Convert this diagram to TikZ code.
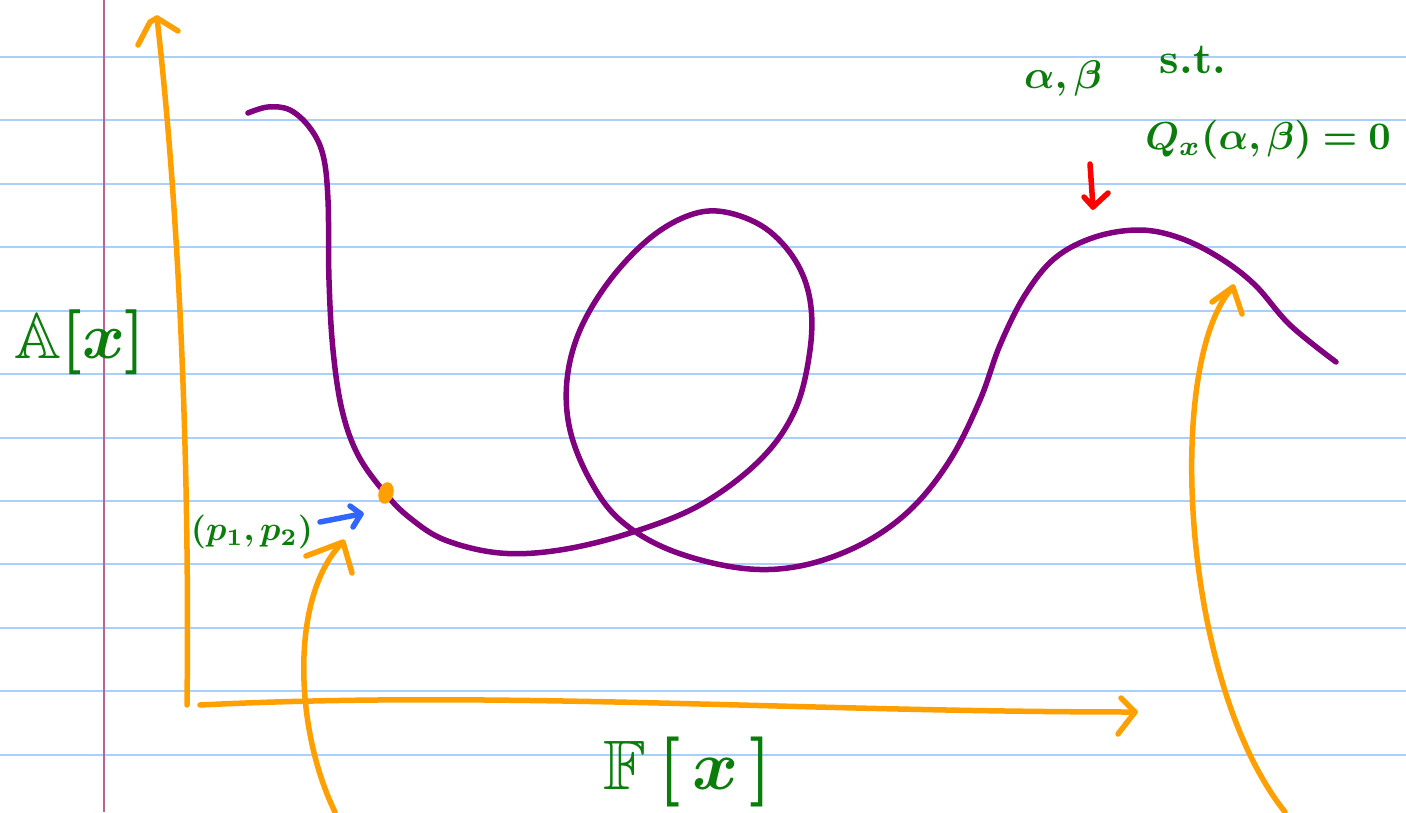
\documentclass[tikz,border=0pt]{standalone}
\usepackage{amssymb}
\usepackage{amsmath}
\usepackage{bm}
\usepackage{graphicx}
\usetikzlibrary{shapes.geometric}
\begin{document}
\begin{tikzpicture}[x=1pt,y=-1pt,
  pen/.style={line width=5.5pt,line cap=round,line join=round},
  rule/.style={line width=1.4pt,draw={rgb,255:red,168;green,208;blue,250}},
  lbl/.style={text={rgb,255:red,10;green,125;blue,10},inner sep=0pt},
]
\definecolor{og}{RGB}{255,160,0}
\definecolor{pu}{RGB}{128,0,128}
\definecolor{bl}{RGB}{50,100,255}
\definecolor{rd}{RGB}{255,0,0}
\useasboundingbox (0,0) rectangle (1406,812);
\fill[white] (0,0) rectangle (1406,812);
% ruled lines
\foreach \y in {57,120,184,247,311,374,438,501,564,628,691,755}
  \draw[rule] (0,\y) -- (1406,\y);
% margin
\draw[line width=1.4pt,draw={rgb,255:red,190;green,100;blue,140}] (104,0) -- (104,812);

% axes
\coordinate (yb) at (187,705);
\coordinate (yt) at (157,18);
\draw[pen,og] (yb) .. controls (190,450) and (178,200) .. (yt);
\draw[pen,og] (138,45) -- (150,22) -- (157,18) -- (178,31);
\coordinate (xb) at (200,705);
\coordinate (xt) at (1135,712);
\draw[pen,og] (xb) .. controls (500,690) and (800,712) .. (xt);
\draw[pen,og] (1121,698) -- (xt) -- (1118,734);

% purple curve
\draw[pen,pu] plot[smooth,tension=0.6] coordinates {
 (248,113) (268,107) (290,110) (310,128) (323,155) (328,200) (329,280)
 (333,350) (342,410) (358,455) (385,493) (410,518) (445,540) (500,553)
 (560,550) (630,533) (700,505) (760,460) (795,410) (810,350) (810,300)
 (795,260) (765,228) (725,212) (690,215) (650,238) (610,280) (580,330)
 (567,380) (570,430) (590,480) (620,520) (670,550) (740,568) (800,566)
 (860,545) (910,510) (950,460) (980,400) (1000,345) (1025,295) (1055,258)
 (1095,237) (1140,230) (1180,238) (1220,258) (1255,285) (1290,325) (1336,362)};

% point
\node[ellipse,fill=og,minimum width=15pt,minimum height=22pt,inner sep=0pt,rotate=-15] (pt) at (386,493) {};

% orange arrows from below
\coordinate (a1s) at (335,812);
\coordinate (a1e) at (340,545);
\draw[pen,og] (a1s) .. controls (295,730) and (290,600) .. (a1e);
\draw[pen,og] (306,556) -- (343,542) -- (352,573);
\coordinate (a2s) at (1285,812);
\coordinate (a2e) at (1233,287);
\draw[pen,og] (a2s) .. controls (1180,680) and (1165,360) .. (a2e);
\draw[pen,og] (1212,302) -- (a2e) -- (1242,314);

% blue arrow
\coordinate (bs) at (320,522);
\coordinate (be) at (361,514);
\draw[pen,bl] (bs) -- (be);
\draw[pen,bl] (350,506) -- (be) -- (353,527);

% red arrow
\coordinate (rs) at (1090,164);
\coordinate (re) at (1093,207);
\draw[pen,rd] (rs) -- (re);
\draw[pen,rd] (1084,197) -- (re) -- (1108,193);

% labels
\node[lbl] (Ax) at (80,342) {\scalebox{6.5}{$\boldsymbol{\mathbb{A}[x]}$}};
\node[lbl] (Fx) at (688,772) {\scalebox{7}{$\boldsymbol{\mathbb{F}\,[\,x\,]}$}};
\node[lbl] (pp) at (252,532) {\scalebox{3.4}{$\boldsymbol{(p_1,p_2)}$}};
\node[lbl] (ab) at (1063,78) {\scalebox{4}{$\boldsymbol{\alpha,\beta}$}};
\node[lbl] (st) at (1193,60) {\scalebox{4.3}{\bfseries s.t.}};
\node[lbl] (Q) at (1268,140) {\scalebox{3.9}{$\boldsymbol{Q_x(\alpha,\beta)=0}$}};
\end{tikzpicture}
\end{document}
